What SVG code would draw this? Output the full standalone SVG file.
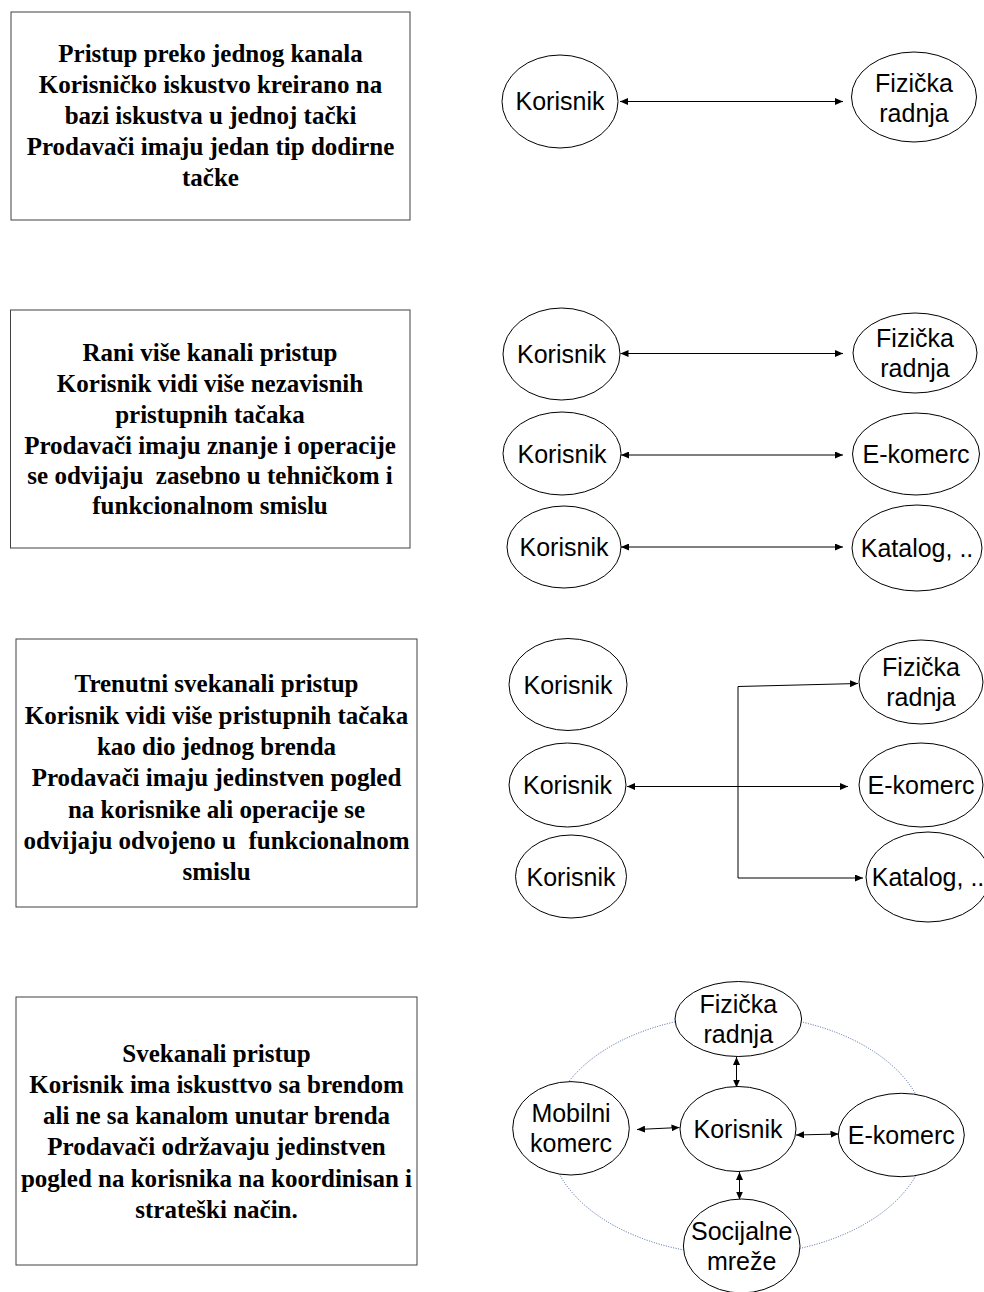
<svg xmlns="http://www.w3.org/2000/svg" width="984" height="1292" viewBox="0 0 984 1292">
<style>
.box{fill:#fff;stroke:#404040;stroke-width:1}
.bt{font-family:"Liberation Serif","Times New Roman",serif;font-weight:bold;font-size:25px;fill:#000;text-anchor:middle;white-space:pre}
.el{fill:#fff;stroke:#000;stroke-width:1}
.et{font-family:"Liberation Sans",Arial,sans-serif;font-size:25px;fill:#000;text-anchor:middle}
.cn{fill:none;stroke:#000;stroke-width:1;marker-start:url(#ah);marker-end:url(#ah)}
.ring{fill:none;stroke:#46609a;stroke-width:1;stroke-dasharray:1 1.5}
</style>
<defs>
<marker id="ah" viewBox="0 0 8 7" refX="8" refY="3.5" markerWidth="8" markerHeight="7" orient="auto-start-reverse" markerUnits="userSpaceOnUse"><path d="M0,0 L8,3.5 L0,7 z" fill="#000"/></marker>
</defs>
<rect width="984" height="1292" fill="#fff"/>

<g id="ring4"><ellipse class="ring" cx="738" cy="1135" rx="189" ry="120"/></g>

<g id="connectors">
<path class="cn" d="M620,101.5 L843,101.5"/>
<path class="cn" d="M620.5,353.5 L843,353.5"/>
<path class="cn" d="M621,455 L843,455"/>
<path class="cn" d="M621,547 L843,547"/>
<path class="cn" d="M627,786.5 L848,786.5"/>
<path class="cn" d="M858,683.5 L738,686.5 L738,878 L863,878"/>
<path class="cn" d="M736.5,1057 L736.5,1087.5"/>
<path class="cn" d="M637,1129.5 L679.5,1127.5"/>
<path class="cn" d="M796,1135 L838.5,1134"/>
<path class="cn" d="M739.5,1172 L739.5,1199.5"/>
</g>

<g id="box1">
<rect class="box" x="11" y="12" width="399" height="208"/>
<text class="bt" x="210.5" y="62">Pristup preko jednog kanala</text>
<text class="bt" x="210.5" y="93">Korisničko iskustvo kreirano na</text>
<text class="bt" x="210.5" y="124">bazi iskustva u jednoj tački</text>
<text class="bt" x="210.5" y="155">Prodavači imaju jedan tip dodirne</text>
<text class="bt" x="210.5" y="186">tačke</text>
</g>
<g id="box2">
<rect class="box" x="10.5" y="310" width="399.5" height="238"/>
<text class="bt" x="210" y="361">Rani više kanali pristup</text>
<text class="bt" x="210" y="392">Korisnik vidi više nezavisnih</text>
<text class="bt" x="210" y="423">pristupnih tačaka</text>
<text class="bt" x="210" y="454">Prodavači imaju znanje i operacije</text>
<text class="bt" x="210" y="484" xml:space="preserve">se odvijaju  zasebno u tehničkom i</text>
<text class="bt" x="210" y="514">funkcionalnom smislu</text>
</g>
<g id="box3">
<rect class="box" x="16" y="639" width="401" height="268"/>
<text class="bt" x="216.5" y="692">Trenutni svekanali pristup</text>
<text class="bt" x="216.5" y="724">Korisnik vidi više pristupnih tačaka</text>
<text class="bt" x="216.5" y="755">kao dio jednog brenda</text>
<text class="bt" x="216.5" y="786">Prodavači imaju jedinstven pogled</text>
<text class="bt" x="216.5" y="818">na korisnike ali operacije se</text>
<text class="bt" x="216.5" y="849" xml:space="preserve">odvijaju odvojeno u  funkcionalnom</text>
<text class="bt" x="216.5" y="880">smislu</text>
</g>
<g id="box4">
<rect class="box" x="16" y="997" width="401" height="268"/>
<text class="bt" x="216.5" y="1062">Svekanali pristup</text>
<text class="bt" x="216.5" y="1093">Korisnik ima iskusttvo sa brendom</text>
<text class="bt" x="216.5" y="1124">ali ne sa kanalom unutar brenda</text>
<text class="bt" x="216.5" y="1155">Prodavači održavaju jedinstven</text>
<text class="bt" x="216.5" y="1187">pogled na korisnika na koordinisan i</text>
<text class="bt" x="216.5" y="1218">strateški način.</text>
</g>

<g id="s1-korisnik"><ellipse class="el" cx="560" cy="101.5" rx="58" ry="46.5"/><text class="et" x="560" y="110">Korisnik</text></g>
<g id="s1-fizicka"><ellipse class="el" cx="914" cy="97" rx="62.5" ry="45"/><text class="et" x="914" y="91.5">Fizička</text><text class="et" x="914" y="121.5">radnja</text></g>

<g id="s2-korisnik1"><ellipse class="el" cx="561.5" cy="354" rx="58.5" ry="46"/><text class="et" x="561.5" y="362.5">Korisnik</text></g>
<g id="s2-fizicka"><ellipse class="el" cx="915" cy="353" rx="62" ry="40"/><text class="et" x="915" y="347">Fizička</text><text class="et" x="915" y="377">radnja</text></g>
<g id="s2-korisnik2"><ellipse class="el" cx="562" cy="453.5" rx="59" ry="41.5"/><text class="et" x="562" y="462.5">Korisnik</text></g>
<g id="s2-ekomerc"><ellipse class="el" cx="916" cy="454" rx="63.5" ry="41"/><text class="et" x="916" y="463">E-komerc</text></g>
<g id="s2-korisnik3"><ellipse class="el" cx="564" cy="547" rx="57" ry="41"/><text class="et" x="564" y="556">Korisnik</text></g>
<g id="s2-katalog"><ellipse class="el" cx="917" cy="548" rx="65" ry="43"/><text class="et" x="917" y="557">Katalog, ..</text></g>

<g id="s3-korisnik1"><ellipse class="el" cx="568" cy="684.5" rx="59" ry="46"/><text class="et" x="568" y="693.5">Korisnik</text></g>
<g id="s3-fizicka"><ellipse class="el" cx="921" cy="682" rx="62" ry="42"/><text class="et" x="921" y="676">Fizička</text><text class="et" x="921" y="706">radnja</text></g>
<g id="s3-korisnik2"><ellipse class="el" cx="567.5" cy="785" rx="58.5" ry="42"/><text class="et" x="567.5" y="794">Korisnik</text></g>
<g id="s3-ekomerc"><ellipse class="el" cx="921" cy="785" rx="62" ry="42"/><text class="et" x="921" y="794">E-komerc</text></g>
<g id="s3-korisnik3"><ellipse class="el" cx="571" cy="876.5" rx="55.5" ry="41.5"/><text class="et" x="571" y="885.5">Korisnik</text></g>
<g id="s3-katalog"><ellipse class="el" cx="928" cy="877" rx="62" ry="45"/><text class="et" x="928" y="886">Katalog, ..</text></g>

<g id="s4-fizicka"><ellipse class="el" cx="738.3" cy="1019" rx="63.3" ry="37.5"/><text class="et" x="738.3" y="1013">Fizička</text><text class="et" x="738.3" y="1043">radnja</text></g>
<g id="s4-korisnik"><ellipse class="el" cx="738" cy="1129" rx="58" ry="42.5"/><text class="et" x="738" y="1138">Korisnik</text></g>
<g id="s4-mobilni"><ellipse class="el" cx="571" cy="1128.3" rx="58.3" ry="46.7"/><text class="et" x="571" y="1122">Mobilni</text><text class="et" x="571" y="1152">komerc</text></g>
<g id="s4-ekomerc"><ellipse class="el" cx="901.3" cy="1135" rx="63" ry="41.7"/><text class="et" x="901.3" y="1144">E-komerc</text></g>
<g id="s4-socijalne"><ellipse class="el" cx="741.7" cy="1246" rx="58.3" ry="47"/><text class="et" x="741.7" y="1240">Socijalne</text><text class="et" x="741.7" y="1270">mreže</text></g>
</svg>
